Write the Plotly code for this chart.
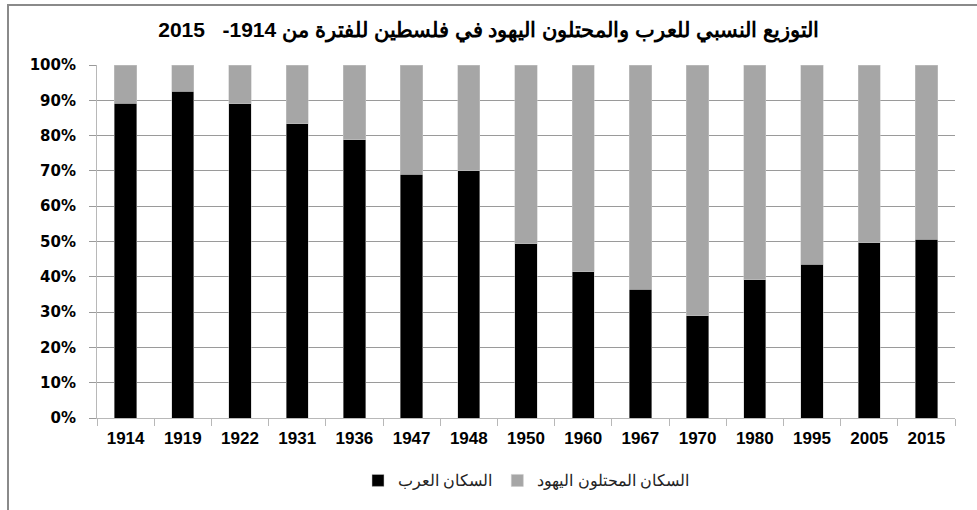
import plotly.graph_objects as go

years = ["1914", "1919", "1922", "1931", "1936", "1947", "1948", "1950",
         "1960", "1967", "1970", "1980", "1995", "2005", "2015"]
arabs = [89.2, 92.5, 89.0, 83.3, 78.8, 69.1, 70.0, 49.4,
         41.4, 36.5, 28.9, 39.1, 43.6, 49.6, 50.7]
jews = [round(100 - a, 1) for a in arabs]
y_ticks = [0, 10, 20, 30, 40, 50, 60, 70, 80, 90, 100]
y_tick_labels = [f"{v}%" for v in y_ticks]

title_text = "التوزيع النسبي للعرب والمحتلون اليهود في فلسطين للفترة من 1914-   2015"
name_arabs = "السكان العرب"
name_jews = "السكان المحتلون اليهود"

fig = go.Figure()
fig.add_trace(go.Bar(x=years, y=arabs, name=name_arabs,
                     marker=dict(color="#000000", line=dict(color="#c8c8c8", width=0.5))))
fig.add_trace(go.Bar(x=years, y=jews, name=name_jews,
                     marker=dict(color="#a6a6a6", line=dict(color="#c8c8c8", width=0.5))))

fig.update_layout(
    width=977, height=510,
    barmode="stack", bargap=0.61,
    paper_bgcolor="white", plot_bgcolor="white",
    margin=dict(l=97, r=22, t=65, b=92),
    title=dict(text=title_text, x=0.5, xanchor="center", xref="container",
               y=1 - 30 / 510, yanchor="middle",
               font=dict(family="Liberation Sans, Arial", size=21, color="#000000", weight="bold")),
    showlegend=True,
    legend=dict(orientation="h", x=0.5, xanchor="center", y=-0.178, yanchor="middle",
                font=dict(family="Liberation Sans, Arial", size=15.5, color="#222222"),
                itemwidth=30, traceorder="normal"),
    shapes=[dict(type="rect", xref="paper", yref="paper",
                 x0=-89 / 858, x1=1.2, y0=-0.5, y1=1 + 60 / 353,
                 line=dict(color="#8a8a8a", width=2), fillcolor="rgba(0,0,0,0)", layer="below")],
)

fig.update_xaxes(
    type="category", showgrid=False, showline=True, linecolor="#b8b8b8", linewidth=1,
    ticks="outside", tickson="boundaries", ticklen=7, tickcolor="#b8b8b8",
    ticklabelstandoff=5,
    tickfont=dict(family="Liberation Sans, Arial", size=17, color="#000000", weight="bold"),
)
fig.update_yaxes(
    range=[0, 100], tickvals=y_ticks, ticktext=y_tick_labels,
    showgrid=True, gridcolor="#9a9a9a", gridwidth=1,
    showline=True, linecolor="#b8b8b8", linewidth=1,
    ticks="outside", ticklen=7, tickcolor="#9a9a9a",
    ticklabelstandoff=10,
    zeroline=False,
    tickfont=dict(family="DejaVu Sans", size=15, color="#000000", weight="bold"),
)

fig.write_html("out.html", config={"displayModeBar": False},
               post_script="document.body.style.margin='0';document.body.style.overflow='hidden';")
